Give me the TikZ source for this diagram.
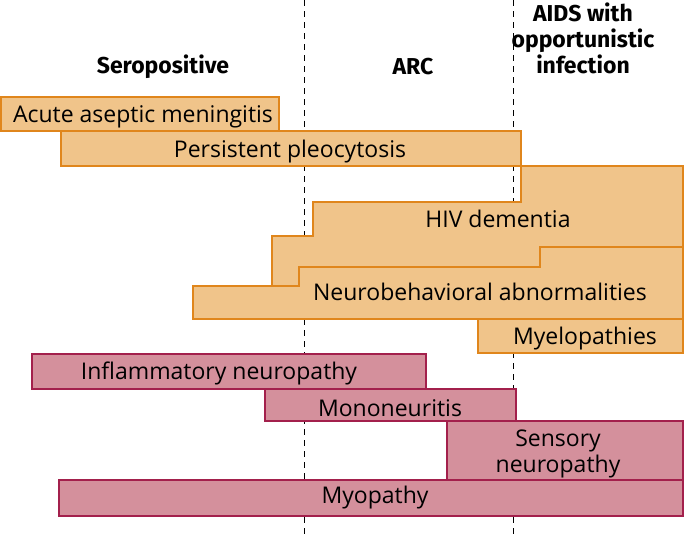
\documentclass[tikz,border=0pt]{standalone}
\usepackage{fontspec}
\setmainfont{Open Sans}
\newfontfamily\headfont{Fira Sans}
\usetikzlibrary{positioning}
\definecolor{tan}{HTML}{F0C48A}
\definecolor{tanline}{HTML}{E0861C}
\definecolor{rose}{HTML}{D4909C}
\definecolor{roseline}{HTML}{A3204C}
\tikzset{
  cnsbar/.style={draw=tanline, fill=tan, line width=1.6pt},
  pnsbar/.style={draw=roseline, fill=rose, line width=1.6pt},
  phase/.style={font=\headfont\fontsize{23}{26}\selectfont\bfseries, align=center},
  disorder/.style={font=\fontsize{23}{25.5}\selectfont, align=center, inner sep=0pt, anchor=base},
  stageline/.style={dash pattern=on 6pt off 5pt, line width=1pt}
}

\begin{document}
\begin{tikzpicture}[x=1pt,y=-1pt]
    \useasboundingbox (0,0) rectangle (685,536);
    % stage borders
    \coordinate (arcT) at (304,0);
    \coordinate (arcB) at (304,536);
    \coordinate (aidsT) at (513,0);
    \coordinate (aidsB) at (513,536);
    \draw[stageline] (arcT) -- (arcB);
    \draw[stageline] (aidsT) -- (aidsB);
    \node[phase] (sero) at (163,67) {Seropositive};
    \node[phase] (arc) at (413,67) {ARC};
    \node[phase] (aids) at (583,38) {AIDS with\\opportunistic\\infection};
    % central nervous system
    \draw[cnsbar] (1,97) rectangle (279,131);
    \node[disorder] (acute) at (143,122) {Acute aseptic meningitis};
    \draw[cnsbar] (61,131) rectangle (521,166);
    \node[disorder] (pleo) at (290,157) {Persistent pleocytosis};
    \draw[cnsbar] (521,166) -- (683,166) -- (683,286) -- (272,286)
      -- (272,236) -- (313,236) -- (313,202) -- (521,202) -- cycle;
    \node[disorder] (hiv) at (498,227) {HIV dementia};
    \draw[cnsbar] (193,286) -- (299,286) -- (299,267) -- (540,267)
      -- (540,247) -- (683,247) -- (683,319) -- (193,319) -- cycle;
    \node[disorder] (neuro) at (480,300) {Neurobehavioral abnormalities};
    \draw[cnsbar] (478,319) rectangle (683,353);
    \node[disorder] (myelo) at (585,344) {Myelopathies};
    % peripheral nervous system and muscle
    \draw[pnsbar] (32,354) rectangle (426,389);
    \node[disorder] (inflam) at (219,379) {Inflammatory neuropathy};
    \draw[pnsbar] (265,389) rectangle (516,421);
    \node[disorder] (mono) at (390,416) {Mononeuritis};
    \draw[pnsbar] (447,421) rectangle (683,480);
    \node[disorder] (sensory) at (558,472) {Sensory\\neuropathy};
    \draw[pnsbar] (59,480) rectangle (683,516);
    \node[disorder] (myo) at (375,503) {Myopathy};
\end{tikzpicture}
\end{document}
